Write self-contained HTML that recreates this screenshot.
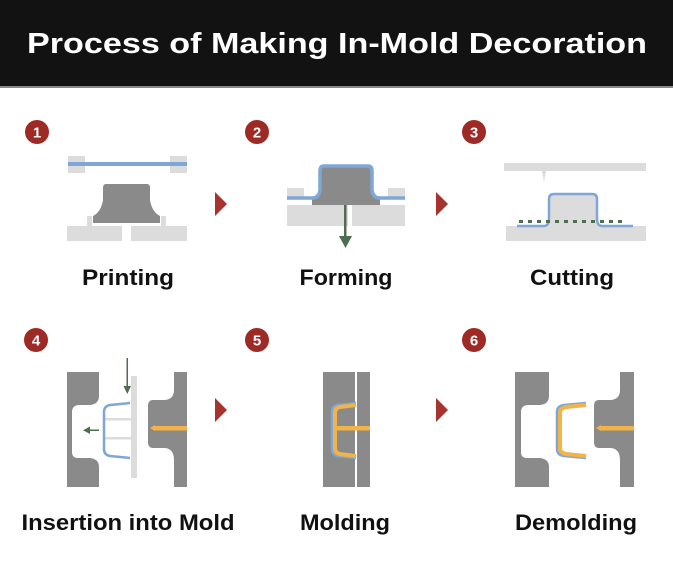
<!DOCTYPE html>
<html><head><meta charset="utf-8"><style>
html,body{margin:0;padding:0;background:#fff;}
svg{display:block;}
text{font-family:"Liberation Sans",sans-serif;font-weight:bold;}
</style></head><body>
<svg width="673" height="572" viewBox="0 0 673 572" xmlns="http://www.w3.org/2000/svg">
<rect x="0" y="0" width="673" height="86" fill="#121212"/>
<rect x="0" y="86" width="673" height="2" fill="#888"/>
<text x="337" y="53" fill="#fff" font-size="29" text-anchor="middle" textLength="620" lengthAdjust="spacingAndGlyphs">Process of Making In-Mold Decoration</text>

<!-- circles -->
<g font-size="15" fill="#fff" text-anchor="middle">
<circle cx="37" cy="132" r="12" fill="#9e2a25"/><text x="37" y="137.5">1</text>
<circle cx="257" cy="132" r="12" fill="#9e2a25"/><text x="257" y="137.5">2</text>
<circle cx="474" cy="132" r="12" fill="#9e2a25"/><text x="474" y="137.5">3</text>
<circle cx="36" cy="340" r="12" fill="#9e2a25"/><text x="36" y="345.5">4</text>
<circle cx="257" cy="340" r="12" fill="#9e2a25"/><text x="257" y="345.5">5</text>
<circle cx="474" cy="340" r="12" fill="#9e2a25"/><text x="474" y="345.5">6</text>
</g>

<!-- arrows -->
<g fill="#a8322d">
<polygon points="215,192 227,204 215,216"/>
<polygon points="436,192 448,204 436,216"/>
<polygon points="215,398 227,410 215,422"/>
<polygon points="436,398 448,410 436,422"/>
</g>

<!-- Step 1 -->
<rect x="68" y="156" width="17" height="17" fill="#dcdcdc"/>
<rect x="170" y="156" width="17" height="17" fill="#dcdcdc"/>
<rect x="68" y="162" width="119" height="4" fill="#7fa6d6"/>
<rect x="87" y="216" width="5" height="10" fill="#dcdcdc"/>
<rect x="161" y="216" width="5" height="10" fill="#dcdcdc"/>
<rect x="67" y="226" width="55" height="15" fill="#dcdcdc"/>
<rect x="131" y="226" width="56" height="15" fill="#dcdcdc"/>
<path d="M106,184 L147,184 Q150,184 150,188 L150,200 Q152,212 160,216 L160,223 L93,223 L93,216 Q101,212 103,200 L103,188 Q103,184 106,184Z" fill="#8a8a8a"/>
<text x="128" y="285" font-size="22" fill="#111" text-anchor="middle" textLength="92" lengthAdjust="spacingAndGlyphs">Printing</text>

<!-- Step 2 -->
<rect x="287" y="188" width="17" height="10" fill="#dcdcdc"/>
<rect x="388" y="188" width="17" height="10" fill="#dcdcdc"/>
<rect x="287" y="205" width="61" height="21" fill="#dcdcdc"/>
<rect x="352" y="205" width="53" height="21" fill="#dcdcdc"/>
<rect x="304" y="198" width="84" height="7" fill="#fff"/>
<path d="M324,166 L368,166 Q372,166 372,171 L372,190 Q373,198 380,198 L380,205 L312,205 L312,198 Q319,198 320,190 L320,171 Q320,166 324,166Z" fill="#8a8a8a"/>
<path d="M287,198 L312,198 Q319,198 320,190 L320,171 Q320,166 324,166 L368,166 Q372,166 372,171 L372,190 Q373,198 380,198 L405,198" fill="none" stroke="#7fa6d6" stroke-width="3.5"/>
<rect x="344" y="205" width="2.5" height="32" fill="#4f6e4f"/>
<polygon points="339,236 352,236 345.5,248" fill="#4f6e4f"/>
<text x="346" y="285" font-size="22" fill="#111" text-anchor="middle" textLength="93" lengthAdjust="spacingAndGlyphs">Forming</text>

<!-- Step 3 -->
<rect x="504" y="163" width="142" height="8" fill="#dcdcdc"/>
<polygon points="542,171 546,171 544,182" fill="#dcdcdc"/>
<rect x="506" y="226" width="140" height="15" fill="#dcdcdc"/>
<path d="M517,226 L544,226 Q549,226 549,218 L549,199 Q549,194 554,194 L592,194 Q597,194 597,199 L597,218 Q597,226 602,226 L633,226 L633,227 L517,227Z" fill="#dcdcdc"/>
<path d="M517,226 L544,226 Q549,226 549,218 L549,199 Q549,194 554,194 L592,194 Q597,194 597,199 L597,218 Q597,226 602,226 L633,226" fill="none" stroke="#7fa6d6" stroke-width="2.5"/>
<line x1="519" y1="221.5" x2="624" y2="221.5" stroke="#4f6e4f" stroke-width="3" stroke-dasharray="4,5"/>
<text x="572" y="285" font-size="22" fill="#111" text-anchor="middle" textLength="84" lengthAdjust="spacingAndGlyphs">Cutting</text>

<!-- Step 4 -->
<path d="M67,372 L99,372 L99,396 Q99,404 90,405 L78,405 Q72,406 72,412 L72,452 Q72,458 78,458 L90,458 Q99,459 99,467 L99,487 L67,487Z" fill="#8a8a8a"/>
<rect x="131" y="376" width="6" height="102" fill="#dcdcdc"/>
<rect x="105" y="418" width="26" height="2.5" fill="#dcdcdc"/>
<rect x="105" y="437" width="26" height="2.5" fill="#dcdcdc"/>
<path d="M130,403 L110,405 Q104,406 104,412 L104,449 Q104,455 110,456 L130,458" fill="none" stroke="#7fa6d6" stroke-width="2.5"/>
<rect x="126.5" y="358" width="1.5" height="30" fill="#4f6e4f"/>
<polygon points="123.5,386 131,386 127.3,394" fill="#4f6e4f"/>
<rect x="89" y="429.5" width="10" height="1.5" fill="#4f6e4f"/>
<polygon points="83,430.2 90,426.5 90,434" fill="#4f6e4f"/>
<path d="M174,372 L187,372 L187,487 L174,487 L174,460 Q174,449 165,448 L153,448 Q148,448 148,442 L148,406 Q148,400 153,400 L165,400 Q174,399 174,390Z" fill="#8a8a8a"/>
<rect x="154" y="426" width="33" height="4.5" fill="#f2b347"/>
<polygon points="150,428 155,425 155,431" fill="#f2b347"/>
<text x="128" y="530" font-size="22" fill="#111" text-anchor="middle" textLength="213" lengthAdjust="spacingAndGlyphs">Insertion into Mold</text>

<!-- Step 5 -->
<rect x="323" y="372" width="32" height="115" fill="#8a8a8a"/>
<rect x="357" y="372" width="13" height="115" fill="#8a8a8a"/>
<path d="M356,403 L338,405 Q332,406 332,412 L332,449 Q332,455 338,456 L356,458" fill="none" stroke="#7fa6d6" stroke-width="2.5"/>
<path d="M356,405 L340,407 Q335,408 335,413 L335,448 Q335,453 340,454 L356,456" fill="none" stroke="#f2b347" stroke-width="4"/>
<rect x="335" y="426" width="35" height="4.5" fill="#f2b347"/>
<text x="345" y="530" font-size="22" fill="#111" text-anchor="middle" textLength="90" lengthAdjust="spacingAndGlyphs">Molding</text>

<!-- Step 6 -->
<path d="M515,372 L549,372 L549,396 Q549,404 540,405 L527,405 Q521,406 521,412 L521,452 Q521,458 527,458 L540,458 Q549,459 549,467 L549,487 L515,487Z" fill="#8a8a8a"/>
<path d="M586,403 L564,405 Q557,406 557,412 L557,449 Q557,455 564,456 L586,458" fill="none" stroke="#7fa6d6" stroke-width="2.5"/>
<path d="M586,405 L566,407 Q560,408 560,413 L560,448 Q560,453 566,454 L586,456" fill="none" stroke="#f2b347" stroke-width="4"/>
<path d="M620,372 L634,372 L634,487 L620,487 L620,460 Q620,449 611,448 L599,448 Q594,448 594,442 L594,406 Q594,400 599,400 L611,400 Q620,399 620,390Z" fill="#8a8a8a"/>
<rect x="600" y="426" width="34" height="4.5" fill="#f2b347"/>
<polygon points="596,428 601,425 601,431" fill="#f2b347"/>
<text x="576" y="530" font-size="22" fill="#111" text-anchor="middle" textLength="122" lengthAdjust="spacingAndGlyphs">Demolding</text>
</svg>
</body></html>
